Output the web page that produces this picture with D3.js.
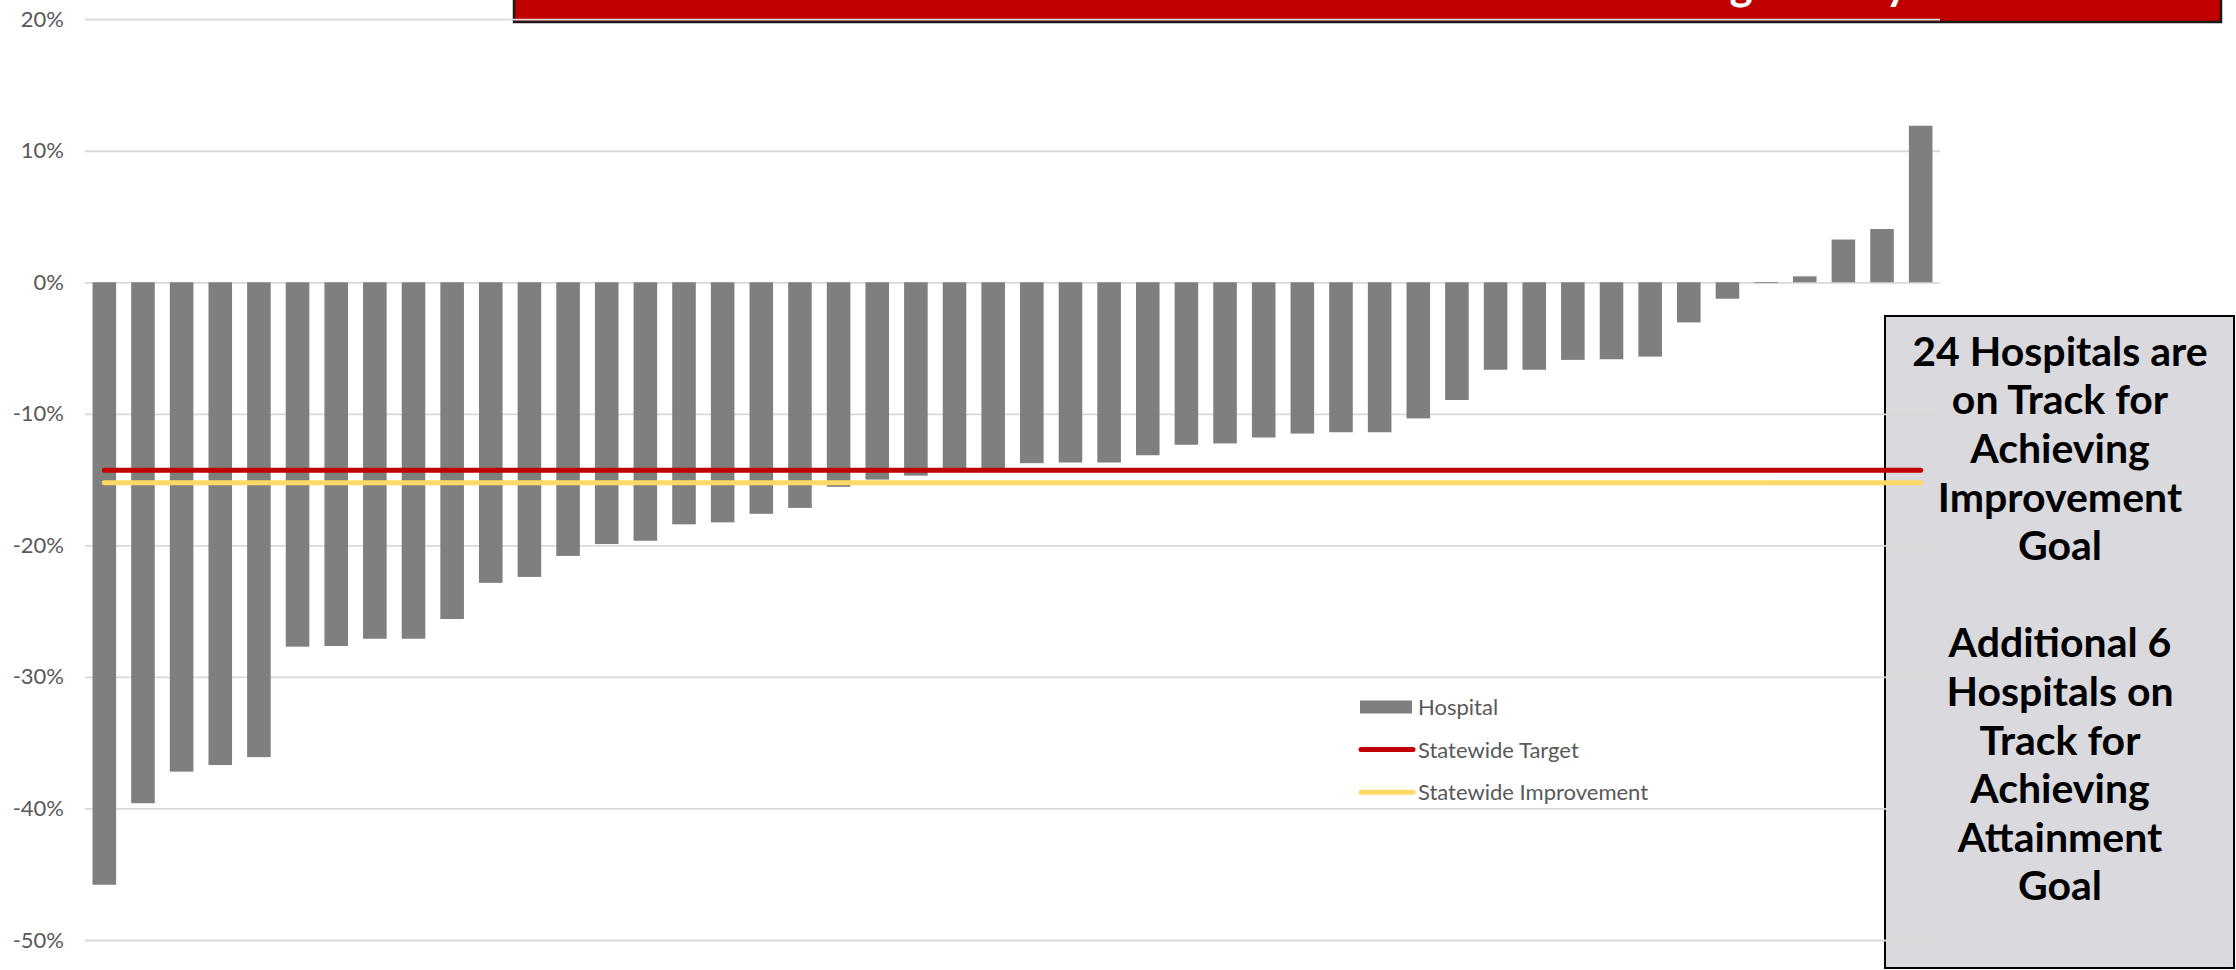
<!DOCTYPE html>
<html>
<head>
<meta charset="utf-8">
<script src="https://cdn.jsdelivr.net/npm/d3@7"></script>
<style>
  html, body { margin: 0; padding: 0; background: #ffffff; }
  svg { display: block; }
</style>
</head>
<body>
<svg id="chart" width="2236" height="970"></svg>
<script>
// Percent change per hospital, sorted from largest reduction to largest increase
const hospitalChange = [
  -45.8, -39.6, -37.2, -36.7, -36.1, -27.7, -27.65, -27.1, -27.1, -25.6,
  -22.85, -22.4, -20.8, -19.9, -19.65, -18.4, -18.25, -17.6, -17.15, -15.55,
  -15.0, -14.7, -14.3, -14.3, -13.75, -13.7, -13.7, -13.15, -12.35, -12.25,
  -11.8, -11.5, -11.4, -11.4, -10.35, -8.95, -6.65, -6.65, -5.9, -5.85,
  -5.65, -3.05, -1.25, -0.05, 0.45, 3.25, 4.05, 11.9
];
const hospitals = hospitalChange.map((_, i) => "Hospital " + (i + 1));

// Statewide reference levels
const statewideTarget = -14.29;
const statewideImprovement = -15.23;

const yTicks = [-50, -40, -30, -20, -10, 0, 10, 20];
const legendLabels = ["Hospital", "Statewide Target", "Statewide Improvement"];
const titleText = "Reducing 30-Day Readmissions";
const noteLines = [
  "24 Hospitals are", "on Track for", "Achieving", "Improvement", "Goal", "",
  "Additional 6", "Hospitals on", "Track for", "Achieving", "Attainment", "Goal"
];

const colors = {
  bar: "#7f7f7f",
  grid: "#d9d9d9",
  target: "#c00000",
  improvement: "#ffd966",
  axisText: "#595959",
  note: "#d9d9de",
  title: "#c00000"
};

const svg = d3.select("#chart");

const x = d3.scaleBand()
  .domain(hospitals)
  .range([85, 1940])
  .paddingInner(0.39)
  .paddingOuter(0.195);

const y = d3.scaleLinear().domain([-50, 20]).range([940, 19.2]);

// Title banner, running off the top edge of the page
const titleG = svg.append("g");
titleG.append("rect")
  .attr("x", 514).attr("y", -20)
  .attr("width", 1707).attr("height", 42)
  .attr("fill", colors.title)
  .attr("stroke", "#1a1a1a").attr("stroke-width", 2.5);
const titleTextEl = titleG.append("text")
  .attr("x", 0).attr("y", -0.5)
  .attr("fill", "#ffffff")
  .attr("font-family", "Lato, 'Open Sans', sans-serif")
  .attr("font-weight", 700)
  .attr("font-size", 44)
  .text(titleText);
// place the line so the "g" of "Reducing" sits at x≈1741
{
  const node = titleTextEl.node();
  const gi = titleText.indexOf("g");
  const gx = node.getStartPositionOfChar(gi).x + node.getSubStringLength(gi, 1) / 2;
  titleTextEl.attr("x", 1741 - gx);
}

// Note panel on the right; the plot layer is drawn over it
svg.append("rect")
  .attr("x", 1885).attr("y", 316)
  .attr("width", 349).attr("height", 652)
  .attr("fill", colors.note)
  .attr("stroke", "#000000").attr("stroke-width", 2);

// Gridlines and y-axis labels
const yAxis = d3.axisLeft(y)
  .tickValues(yTicks)
  .tickSize(-(1940 - 85))
  .tickPadding(21)
  .tickFormat(d => d + "%");

const axisG = svg.append("g")
  .attr("transform", "translate(85,0)")
  .call(yAxis);
axisG.select(".domain").remove();
axisG.selectAll(".tick line")
  .attr("stroke", colors.grid)
  .attr("stroke-width", 1.8);
axisG.selectAll(".tick text")
  .attr("fill", colors.axisText)
  .attr("font-family", "Lato, 'Open Sans', sans-serif")
  .attr("font-size", 22);

// Bars
svg.append("g")
  .selectAll("rect")
  .data(hospitalChange)
  .join("rect")
  .attr("x", (d, i) => x(hospitals[i]))
  .attr("width", x.bandwidth())
  .attr("y", d => y(Math.max(0, d)))
  .attr("height", d => Math.max(0.8, Math.abs(y(d) - y(0))))
  .attr("fill", colors.bar);

// Statewide reference lines across the hospitals
const xFirst = x(hospitals[0]) + x.bandwidth() / 2;
const xLast = x(hospitals[hospitals.length - 1]) + x.bandwidth() / 2;
const refLines = [
  { value: statewideTarget, color: colors.target },
  { value: statewideImprovement, color: colors.improvement }
];
svg.append("g")
  .selectAll("line")
  .data(refLines)
  .join("line")
  .attr("x1", xFirst).attr("x2", xLast)
  .attr("y1", d => y(d.value)).attr("y2", d => y(d.value))
  .attr("stroke", d => d.color)
  .attr("stroke-width", 5)
  .attr("stroke-linecap", "round");

// Legend
const legendG = svg.append("g").attr("transform", "translate(1360,707)");
const legendRows = [
  { label: legendLabels[0], type: "bar", color: colors.bar },
  { label: legendLabels[1], type: "line", color: colors.target },
  { label: legendLabels[2], type: "line", color: colors.improvement }
];
legendRows.forEach((r, i) => {
  const g = legendG.append("g").attr("transform", `translate(0,${i * 42.6})`);
  if (r.type === "bar") {
    g.append("rect").attr("x", 0).attr("y", -6.5).attr("width", 52).attr("height", 13).attr("fill", r.color);
  } else {
    g.append("line").attr("x1", 1).attr("x2", 53).attr("y1", 0).attr("y2", 0)
      .attr("stroke", r.color).attr("stroke-width", 5).attr("stroke-linecap", "round");
  }
  g.append("text")
    .attr("x", 58).attr("y", 8)
    .attr("fill", colors.axisText)
    .attr("font-family", "Lato, 'Open Sans', sans-serif")
    .attr("font-size", 22)
    .text(r.label);
});

// Note text
const noteText = svg.append("g");
noteLines.forEach((line, i) => {
  noteText.append("text")
    .attr("x", 2060)
    .attr("y", 365.7 + i * 48.6)
    .attr("text-anchor", "middle")
    .attr("fill", "#000000")
    .attr("font-family", "Lato, 'Open Sans', sans-serif")
    .attr("font-weight", 700)
    .attr("font-size", 41)
    .text(line);
});
</script>
</body>
</html>
